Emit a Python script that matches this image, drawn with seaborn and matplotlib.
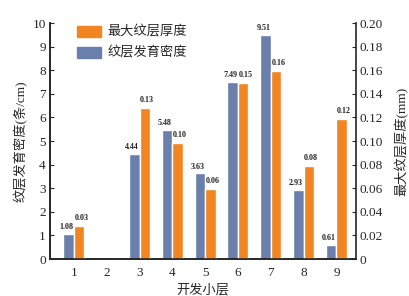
import numpy as np
import pandas as pd
import matplotlib
matplotlib.use("Agg")
import matplotlib.pyplot as plt
from matplotlib.patches import Patch
import seaborn as sns

# data
layers = ["1", "2", "3", "4", "5", "6", "7", "8", "9"]
density = [1.08, 0, 4.44, 5.48, 3.63, 7.49, 9.51, 2.93, 0.61]
thickness = [0.028, 0, 0.128, 0.098, 0.059, 0.149, 0.159, 0.079, 0.119]
thickness_labels = ["0.03", "", "0.13", "0.10", "0.06", "0.15", "0.16", "0.08", "0.12"]
density_labels = ["1.08", "", "4.44", "5.48", "3.63", "7.49", "9.51", "2.93", "0.61"]

BLUE = "#6A7FAB"
ORANGE = "#F28522"

sns.set_style("ticks")
plt.rcParams['font.family'] = ['Liberation Serif', 'Noto Sans CJK SC']
plt.rcParams['axes.unicode_minus'] = False

series = ["纹层发育密度", "最大纹层厚度"]
df_d = pd.DataFrame({"layer": layers * 2,
                     "series": [series[0]] * 9 + [series[1]] * 9,
                     "value": density + [np.nan] * 9})
df_t = pd.DataFrame({"layer": layers * 2,
                     "series": [series[0]] * 9 + [series[1]] * 9,
                     "value": [np.nan] * 9 + thickness})

fig = plt.figure(figsize=(4.09, 2.96), dpi=100)
ax = fig.add_axes([0.122, 0.125, 0.748, 0.797])
ax2 = ax.twinx()

pal = {series[0]: BLUE, series[1]: ORANGE}
sns.barplot(data=df_d, x="layer", y="value", hue="series", hue_order=series,
            palette=pal, ax=ax, width=0.64, gap=0, saturation=1, legend=False)
sns.barplot(data=df_t, x="layer", y="value", hue="series", hue_order=series,
            palette=pal, ax=ax2, width=0.64, gap=0, saturation=1, legend=False)

# value labels
for i in range(9):
    if density_labels[i]:
        ax.text(i - 0.23, density[i] + 0.12, density_labels[i], ha="center", va="bottom",
                fontsize=5.8, fontweight="bold", color="#222222")
    if thickness_labels[i]:
        ax2.text(i + 0.23, thickness[i] + 0.0035, thickness_labels[i], ha="center", va="bottom",
                 fontsize=5.8, fontweight="bold", color="#222222")

ax.set_xlim(-0.73, 8.59)
ax.set_ylim(0, 10)
ax2.set_ylim(0, 0.20)
ax.set_yticks(range(0, 11))
ax2.set_yticks(np.arange(0, 0.201, 0.02))
ax2.set_yticklabels(["0"] + ["%.2f" % v for v in np.arange(0.02, 0.201, 0.02)])

for a in (ax, ax2):
    a.spines["top"].set_visible(False)
    a.spines["left"].set_linewidth(1.2)
    a.spines["right"].set_linewidth(1.2)
    a.spines["bottom"].set_linewidth(1.2)
ax.spines["right"].set_visible(False)
ax2.spines["right"].set_visible(True)

ax.tick_params(axis="y", direction="in", length=3, labelsize=9.5, pad=3)
ax2.tick_params(axis="y", direction="in", length=3, labelsize=9.5, pad=3)
ax.tick_params(axis="x", length=0, labelsize=9.5, pad=6)

ax.set_xlabel("开发小层", fontsize=9.5, labelpad=3)
ax.set_ylabel("纹层发育密度(条/cm)", fontsize=9.5, labelpad=3)
ax2.set_ylabel("最大纹层厚度(mm)", fontsize=9.5, labelpad=8)
ax2.set_xlabel("")

handles = [Patch(color=ORANGE, label=series[1]), Patch(color=BLUE, label=series[0])]
ax.legend(handles=handles, loc="upper left", bbox_to_anchor=(0.05, 1.04), frameon=False,
          fontsize=9.5, handlelength=1.8, handleheight=0.9, labelspacing=0.6, handletextpad=0.5)

fig.savefig("out.png", dpi=100)
